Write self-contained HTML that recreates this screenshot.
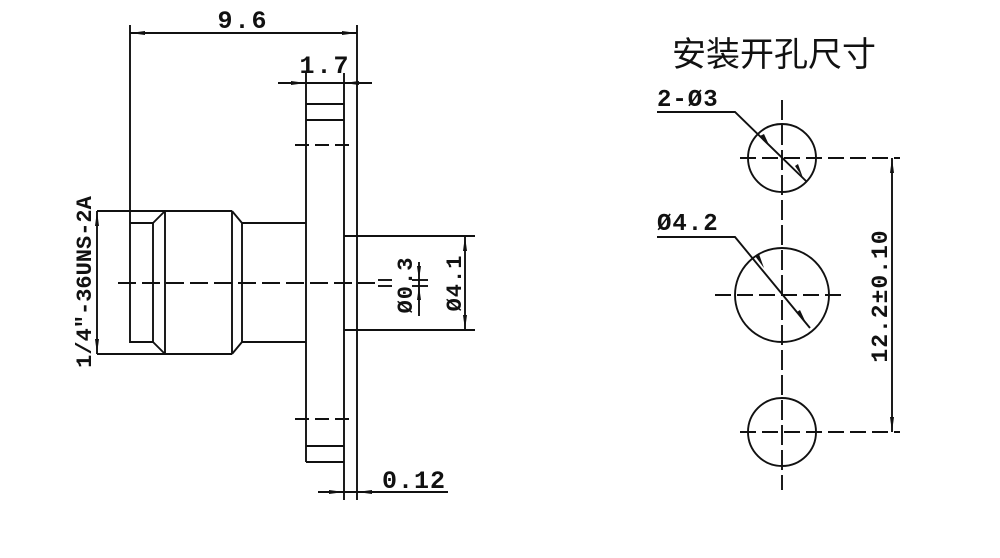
<!DOCTYPE html>
<html><head><meta charset="utf-8"><style>
html,body{margin:0;padding:0;background:#fff;}
svg{display:block}
text{font-family:"Liberation Mono","Liberation Serif",serif;font-weight:bold;fill:#111}
</style></head><body>
<svg width="1000" height="558" viewBox="0 0 1000 558" xmlns="http://www.w3.org/2000/svg">
<rect width="1000" height="558" fill="#fff"/>
<g stroke="#111" stroke-width="1.9" fill="none">
<line x1="130" y1="25" x2="130" y2="343"/>
<line x1="357" y1="25" x2="357" y2="500"/>
<line x1="130" y1="33" x2="357" y2="33"/>
<line x1="278" y1="83" x2="372" y2="83"/>
<line x1="306" y1="73" x2="306" y2="462"/>
<line x1="344" y1="73" x2="344" y2="500"/>
<line x1="306" y1="104" x2="344" y2="104"/>
<line x1="306" y1="120" x2="344" y2="120"/>
<line x1="295" y1="145" x2="355" y2="145" stroke-dasharray="14,6"/>
<line x1="295" y1="419" x2="352" y2="419" stroke-dasharray="14,6"/>
<line x1="306" y1="446" x2="344" y2="446"/>
<line x1="306" y1="462" x2="344" y2="462"/>
<line x1="97" y1="211" x2="232" y2="211"/>
<line x1="97" y1="354" x2="232" y2="354"/>
<line x1="130" y1="223" x2="153" y2="223"/>
<line x1="130" y1="342" x2="153" y2="342"/>
<line x1="153" y1="223" x2="153" y2="342"/>
<line x1="153" y1="223" x2="165" y2="211"/>
<line x1="153" y1="342" x2="165" y2="354"/>
<line x1="165" y1="211" x2="165" y2="354"/>
<line x1="232" y1="211" x2="232" y2="354"/>
<line x1="232" y1="211" x2="242" y2="223"/>
<line x1="232" y1="354" x2="242" y2="342"/>
<line x1="242" y1="223" x2="242" y2="342"/>
<line x1="242" y1="223" x2="306" y2="223"/>
<line x1="242" y1="342" x2="306" y2="342"/>
<line x1="97" y1="211" x2="97" y2="354"/>
<line x1="344" y1="236" x2="475" y2="236"/>
<line x1="344" y1="330" x2="475" y2="330"/>
<line x1="465" y1="236" x2="465" y2="330"/>
<line x1="118" y1="283" x2="375" y2="283" stroke-dasharray="18,6"/>
<line x1="378" y1="280" x2="392" y2="280"/>
<line x1="378" y1="286" x2="392" y2="286"/>
<line x1="419" y1="262" x2="419" y2="316"/>
<line x1="412" y1="280" x2="428" y2="280"/>
<line x1="412" y1="286" x2="428" y2="286"/>
<line x1="318" y1="492" x2="448" y2="492"/>
<line x1="782" y1="100" x2="782" y2="490" stroke-dasharray="20,5"/>
<circle cx="782" cy="158" r="34"/>
<circle cx="782" cy="295" r="47"/>
<circle cx="782" cy="432" r="34"/>
<line x1="740" y1="158" x2="900" y2="158" stroke-dasharray="16,6"/>
<line x1="715" y1="295" x2="845" y2="295" stroke-dasharray="16,6"/>
<line x1="740" y1="432" x2="900" y2="432" stroke-dasharray="16,6"/>
<line x1="892" y1="158" x2="892" y2="432"/>
<polyline points="657,112 735,112 806,181"/>
<polyline points="657,237 735,237 810,328"/>
</g>
<g fill="#111">
<polygon points="130,33 145,31 145,35"/><polygon points="357,33 342,31 342,35"/>
<polygon points="306,83 291,81 291,85"/><polygon points="344,83 359,81 359,85"/>
<polygon points="97,211 95,226 99,226"/><polygon points="97,354 95,339 99,339"/>
<polygon points="465,236 463,251 467,251"/><polygon points="465,330 463,315 467,315"/>
<polygon points="419,280 417,266 421,266"/><polygon points="419,286 417,300 421,300"/>
<polygon points="344,492 329,490 329,494"/><polygon points="357,492 372,490 372,494"/>
<polygon points="892,158 890,173 894,173"/><polygon points="892,432 890,417 894,417"/>
<polygon points="770,147 760,136 764,134"/><polygon points="803,178 795,166 798,164"/>
<polygon points="764,268 755,256 759,254"/><polygon points="806,323 797,312 800,310"/>
</g>
<text x="243" y="28" font-size="25" text-anchor="middle" letter-spacing="2">9.6</text>
<text x="325" y="73" font-size="25" text-anchor="middle" letter-spacing="2">1.7</text>
<text x="414" y="488" font-size="25" text-anchor="middle" letter-spacing="1">0.12</text>
<text transform="translate(91,282) rotate(-90)" font-size="22" text-anchor="middle">1/4″-36UNS-2A</text>
<text transform="translate(412,285) rotate(-90)" font-size="22" text-anchor="middle" letter-spacing="1">Ø0.3</text>
<text transform="translate(461,283) rotate(-90)" font-size="22" text-anchor="middle" letter-spacing="1">Ø4.1</text>
<text x="657" y="106" font-size="24" letter-spacing="1">2-Ø3</text>
<text x="657" y="230" font-size="24" letter-spacing="1">Ø4.2</text>
<text transform="translate(887,296) rotate(-90)" font-size="23" text-anchor="middle" letter-spacing="1">12.2±0.10</text>
<text x="774" y="66" font-size="34" text-anchor="middle" style="font-family:'Noto Sans CJK SC',sans-serif;font-weight:normal">安装开孔尺寸</text>
</svg>
</body></html>
